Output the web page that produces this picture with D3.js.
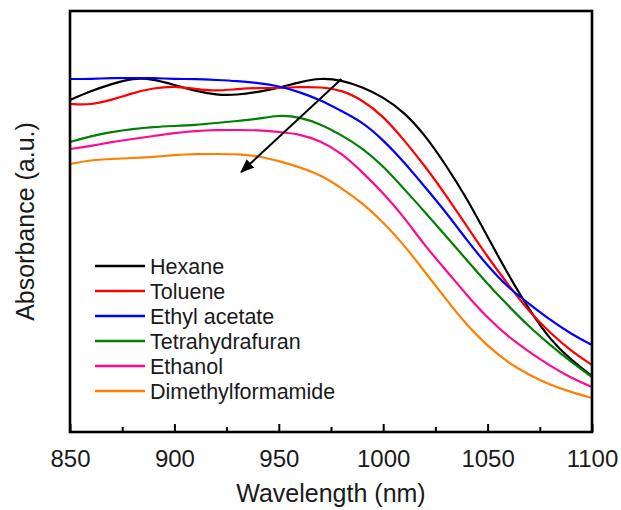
<!DOCTYPE html>
<html>
<head>
<meta charset="utf-8">
<script src="https://cdn.jsdelivr.net/npm/d3@7"></script>
<style>
  html, body { margin: 0; padding: 0; background: #fff; }
  svg { display: block; }
  text { font-family: "Liberation Sans", Arial, Helvetica, sans-serif; fill: #1a1a1a; }
</style>
</head>
<body>
<svg id="chart" width="621" height="510"></svg>
<script>
// ---- data ----
const wavelengths = [850, 860, 870, 880, 890, 900, 910, 920, 930, 940, 950, 960, 970, 980, 990, 1000, 1010, 1020, 1030, 1040, 1050, 1060, 1070, 1080, 1090, 1100];
const solvents = ["Hexane", "Toluene", "Ethyl acetate", "Tetrahydrafuran", "Ethanol", "Dimethylformamide"];
const colors = ["#000000", "#ff0000", "#0000ff", "#008000", "#ff0a8c", "#ff8000"];
const hexane = [3.32, 3.41, 3.48, 3.54, 3.53, 3.47, 3.41, 3.37, 3.37, 3.40, 3.44, 3.50, 3.54, 3.52, 3.45, 3.35, 3.20, 2.97, 2.67, 2.34, 1.95, 1.57, 1.22, 0.92, 0.72, 0.56];
const toluene = [3.28, 3.27, 3.32, 3.39, 3.44, 3.46, 3.43, 3.41, 3.43, 3.44, 3.44, 3.45, 3.45, 3.42, 3.32, 3.16, 2.92, 2.66, 2.37, 2.06, 1.75, 1.47, 1.20, 0.99, 0.81, 0.67];
const ethylAcetate = [3.53, 3.53, 3.54, 3.54, 3.54, 3.53, 3.53, 3.52, 3.51, 3.49, 3.46, 3.40, 3.32, 3.21, 3.10, 2.92, 2.70, 2.45, 2.20, 1.92, 1.66, 1.44, 1.28, 1.12, 0.98, 0.87];
const thf = [2.90, 2.96, 3.00, 3.03, 3.05, 3.06, 3.07, 3.09, 3.11, 3.13, 3.17, 3.15, 3.08, 2.97, 2.84, 2.66, 2.43, 2.20, 1.96, 1.72, 1.48, 1.26, 1.05, 0.87, 0.70, 0.55];
const ethanol = [2.83, 2.86, 2.90, 2.93, 2.96, 2.99, 3.01, 3.02, 3.02, 3.02, 3.00, 2.98, 2.91, 2.79, 2.60, 2.39, 2.15, 1.86, 1.62, 1.37, 1.14, 0.95, 0.80, 0.66, 0.54, 0.45];
const dmf = [2.68, 2.72, 2.73, 2.74, 2.75, 2.77, 2.78, 2.78, 2.78, 2.76, 2.71, 2.65, 2.57, 2.44, 2.29, 2.10, 1.87, 1.60, 1.33, 1.07, 0.86, 0.69, 0.57, 0.47, 0.40, 0.34];
const seriesValues = [hexane, toluene, ethylAcetate, thf, ethanol, dmf];
const xTicks = [850, 900, 950, 1000, 1050, 1100];
const xMinorTicks = [875, 925, 975, 1025, 1075];
const arrowFrom = [980, 3.53];
const arrowTo = [932, 2.60];

// ---- layout ----
const svg = d3.select("#chart");
const L = 70, R = 592, T = 11, B = 432;
const x = d3.scaleLinear().domain([850, 1100]).range([L, R]);
const y = d3.scaleLinear().domain([0, 4.21]).range([B, T]);

svg.append("defs").append("clipPath").attr("id", "clip")
  .append("rect").attr("x", L).attr("y", T).attr("width", R - L).attr("height", B - T);

// lines
const line = d3.line()
  .x((d, i) => x(wavelengths[i]))
  .y(d => y(d))
  .curve(d3.curveBasis);

const g = svg.append("g").attr("clip-path", "url(#clip)");
seriesValues.forEach((vals, i) => {
  g.append("path")
    .attr("d", line(vals))
    .attr("fill", "none")
    .attr("stroke", colors[i])
    .attr("stroke-width", 2.2)
    .attr("stroke-linejoin", "round");
});

// arrow
svg.append("defs").append("marker")
  .attr("id", "arrowhead")
  .attr("viewBox", "0 0 10 10")
  .attr("refX", 9).attr("refY", 5)
  .attr("markerWidth", 7).attr("markerHeight", 7)
  .attr("markerUnits", "strokeWidth")
  .attr("orient", "auto")
  .append("path").attr("d", "M0,1 L10,5 L0,9 Z").attr("fill", "#000");

svg.append("line")
  .attr("x1", x(arrowFrom[0])).attr("y1", y(arrowFrom[1]))
  .attr("x2", x(arrowTo[0])).attr("y2", y(arrowTo[1]))
  .attr("stroke", "#000").attr("stroke-width", 2)
  .attr("marker-end", "url(#arrowhead)");

// bottom axis (ticks inward)
const xAxis = d3.axisBottom(x).tickValues(xTicks).tickSize(-8).tickPadding(18).tickFormat(d3.format("d"));
const ax = svg.append("g").attr("transform", `translate(0,${B})`).call(xAxis);
ax.select(".domain").remove();
ax.selectAll(".tick line").attr("stroke", "#000").attr("stroke-width", 2);
ax.selectAll(".tick text").attr("font-size", 24).attr("fill", "#1a1a1a")
  .style("font-family", "'Liberation Sans', Arial, sans-serif");

const xMinor = d3.axisBottom(x).tickValues(xMinorTicks).tickSize(-5).tickFormat("");
const axm = svg.append("g").attr("transform", `translate(0,${B})`).call(xMinor);
axm.select(".domain").remove();
axm.selectAll(".tick line").attr("stroke", "#000").attr("stroke-width", 2);

// frame
svg.append("rect")
  .attr("x", L).attr("y", T).attr("width", R - L).attr("height", B - T)
  .attr("fill", "none").attr("stroke", "#000").attr("stroke-width", 2.6);

// axis titles
svg.append("text")
  .attr("x", (L + R) / 2).attr("y", 502)
  .attr("text-anchor", "middle").attr("font-size", 25)
  .text("Wavelength (nm)");

svg.append("text")
  .attr("transform", `translate(34,${(T + B) / 2}) rotate(-90)`)
  .attr("text-anchor", "middle").attr("font-size", 25)
  .text("Absorbance (a.u.)");

// legend
const legend = svg.append("g");
solvents.forEach((name, i) => {
  const yy = 266 + i * 25;
  legend.append("line")
    .attr("x1", 95).attr("x2", 145).attr("y1", yy).attr("y2", yy)
    .attr("stroke", colors[i]).attr("stroke-width", 2.5);
  legend.append("text")
    .attr("x", 150).attr("y", yy).attr("dy", "0.35em")
    .attr("font-size", 21.5)
    .text(name);
});
</script>
</body>
</html>
